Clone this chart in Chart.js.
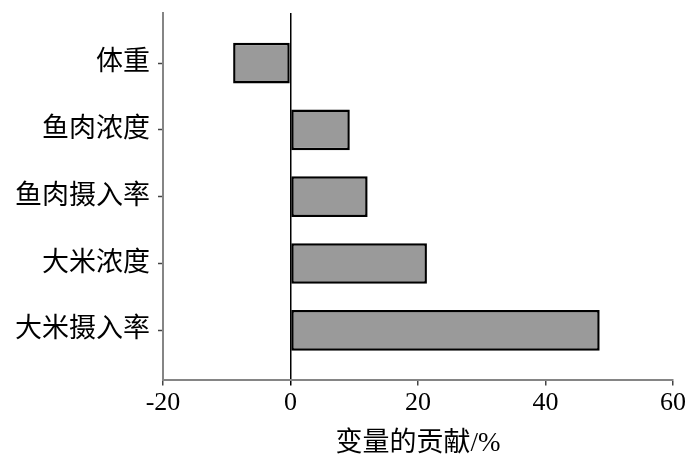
<!DOCTYPE html>
<html>
<head>
<meta charset="utf-8">
<script src="https://cdn.jsdelivr.net/npm/chart.js@4"></script>
<style>
  html, body { margin: 0; padding: 0; background: #fff; }
  #wrap { width: 700px; height: 464px; }
</style>
</head>
<body>
<div id="wrap"><canvas id="bar-chart"></canvas></div>
<script>
// bottom to top, like the picture
const categories = ['大米摄入率', '大米浓度', '鱼肉摄入率', '鱼肉浓度', '体重'];
const contributions = [48.5, 21.4, 12.1, 9.3, -9.0];
const xTicks = [-20, 0, 20, 40, 60];

const font = "'Liberation Serif', 'Noto Sans CJK SC', serif";

new Chart(document.getElementById('bar-chart'), {
  type: 'bar',
  data: {
    datasets: [{
      label: '变量的贡献',
      data: categories.map((c, i) => ({ x: contributions[i], y: i })),
      backgroundColor: '#9a9a9a',
      borderColor: '#000',
      borderWidth: 2.5,
      borderSkipped: false,
      categoryPercentage: 1,
      barPercentage: 0.61
    }]
  },
  options: {
    indexAxis: 'y',
    responsive: true,
    maintainAspectRatio: false,
    animation: false,
    layout: { padding: { top: 13, right: 27, bottom: 4, left: 0 } },
    plugins: {
      legend: { display: false },
      tooltip: { enabled: false }
    },
    scales: {
      y: {
        type: 'linear',
        min: -0.75,
        max: 4.75,
        offset: false,
        bounds: 'data',
        afterBuildTicks: axis => { axis.ticks = categories.map((c, i) => ({ value: i })); },
        afterFit: axis => {
          axis.width = 163;
          axis.paddingTop = 0;
          axis.paddingBottom = 0;
        },
        ticks: {
          callback: v => categories[v],
          color: '#000',
          font: { family: font, size: 27 },
          padding: 8
        },
        grid: { offset: false, drawOnChartArea: false, drawTicks: true, tickLength: 5, tickColor: '#444', tickWidth: 1.5 },
        border: { color: '#858585', width: 2 }
      },
      x: {
        type: 'linear',
        min: -20,
        max: 60,
        afterBuildTicks: axis => { axis.ticks = xTicks.map(v => ({ value: v })); },
        ticks: {
          color: '#000',
          font: { family: font, size: 26 },
          padding: 2
        },
        grid: {
          color: ctx => (ctx.tick && ctx.tick.value === 0) ? '#000' : 'rgba(0,0,0,0)',
          lineWidth: 1.5,
          drawTicks: true,
          tickLength: 5,
          tickColor: ctx => (ctx.tick && ctx.tick.value === 0) ? '#000' : '#444',
          tickWidth: 1.5
        },
        border: { color: '#858585', width: 2 },
        title: {
          display: true,
          text: '变量的贡献/%',
          color: '#000',
          font: { family: font, size: 27 },
          padding: { top: 7, bottom: 0 }
        }
      }
    }
  }
});
</script>
</body>
</html>
